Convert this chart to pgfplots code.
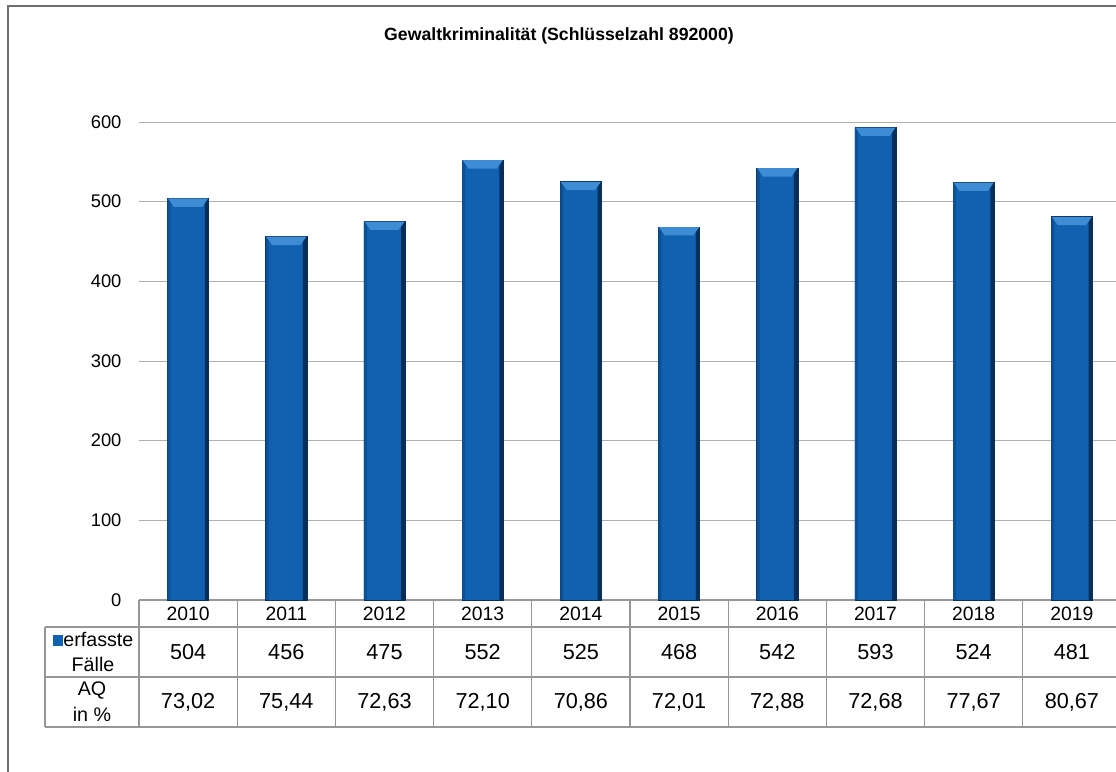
\documentclass[border=0pt]{standalone}
\usepackage{pgfplots}
\pgfplotsset{compat=1.18}
\usepackage{fontspec}
\setmainfont{Liberation Sans}
\definecolor{barblue}{RGB}{16,98,176}
\definecolor{barlight}{RGB}{62,140,212}
\definecolor{barleft}{RGB}{12,80,150}
\definecolor{bardark}{RGB}{8,46,90}
\definecolor{gridgray}{RGB}{175,175,175}
\definecolor{tablegray}{RGB}{150,150,150}
\definecolor{framegray}{RGB}{110,110,110}

% light bevel on top of each bar
\pgfdeclareplotmark{bevel}{%
  \pgfpathmoveto{\pgfpoint{-12.0pt}{0pt}}%
  \pgfpathlineto{\pgfpoint{12.0pt}{0pt}}%
  \pgfpathlineto{\pgfpoint{8.5pt}{-5pt}}%
  \pgfpathlineto{\pgfpoint{-8.5pt}{-5pt}}%
  \pgfpathclose
  \pgfusepathqfill}

\begin{document}
\begin{tikzpicture}[x=0.6pt,y=0.6pt]
\useasboundingbox (0,0) rectangle (1116,771);
\clip (0,0) rectangle (1116,771);
\fill[white] (0,0) rectangle (1116,771);
\draw[framegray, line width=1.1pt] (8,-10) -- (8,765) -- (1130,765);

\node[font=\bfseries\fontsize{10.6}{12}\selectfont] at (559,735)
  {Gewaltkriminalität (Schlüsselzahl 892000)};

\begin{axis}[
  at={(83.4pt,102.6pt)}, anchor=south west,
  scale only axis, width=589.2pt, height=286.8pt,
  xmin=-0.5, xmax=9.5, ymin=0, ymax=600,
  xtick=\empty,
  ytick={0,100,200,300,400,500,600},
  ymajorgrids, grid style={gridgray, line width=0.6pt},
  axis x line*=bottom, axis y line*=left,
  x axis line style={tablegray, line width=0.8pt, -},
  y axis line style={draw=none},
  major tick length=0pt,
  yticklabel style={font=\fontsize{11}{13}\selectfont, xshift=-7pt},
  /pgf/number format/assume math mode=true,
  clip=false]
% bar bodies
\addplot[ybar, bar width=0.42, draw=bardark, line width=0.4pt, fill=barblue]
  coordinates {(0,504)(1,456)(2,475)(3,552)(4,525)(5,468)(6,542)(7,593)(8,524)(9,481)};
% darker left and right edges
\addplot[ybar, bar width=0.03, bar shift=-0.195, draw=none, fill=barleft]
  coordinates {(0,504)(1,456)(2,475)(3,552)(4,525)(5,468)(6,542)(7,593)(8,524)(9,481)};
\addplot[ybar, bar width=0.04, bar shift=0.19, draw=none, fill=bardark]
  coordinates {(0,504)(1,456)(2,475)(3,552)(4,525)(5,468)(6,542)(7,593)(8,524)(9,481)};
% lighter top bevel
\addplot[only marks, mark=bevel, color=barlight]
  coordinates {(0,504)(1,456)(2,475)(3,552)(4,525)(5,468)(6,542)(7,593)(8,524)(9,481)};
\end{axis}

% data table below the plot
\begin{scope}[tablegray, line width=0.8pt]
  \draw (45,144) -- (1125,144);
  \draw (45,94) -- (1125,94);
  \draw (45,44) -- (1125,44);
  \draw (45,144) -- (45,44);
  \foreach \i in {0,...,10} {
    \draw ({139+98.2*\i},171) -- ({139+98.2*\i},44);
  }
\end{scope}

\foreach \yr/\n/\aq [count=\k from 0] in
  {2010/504/{73,02}, 2011/456/{75,44}, 2012/475/{72,63}, 2013/552/{72,10},
   2014/525/{70,86}, 2015/468/{72,01}, 2016/542/{72,88}, 2017/593/{72,68},
   2018/524/{77,67}, 2019/481/{80,67}} {
  \node[font=\fontsize{11.6}{14}\selectfont] at ({188.1+98.2*\k},157.5) {\yr};
  \node[font=\fontsize{13}{15}\selectfont] at ({188.1+98.2*\k},119) {\n};
  \node[font=\fontsize{13}{15}\selectfont] at ({188.1+98.2*\k},69) {\aq};
}
\node[align=center, inner sep=0pt, font=\fontsize{11.8}{15.5}\selectfont] at (93,119)
  {\textcolor{barblue}{\rule{6.5pt}{6.5pt}}erfasste\\Fälle};
\node[align=center, inner sep=0pt, font=\fontsize{11.8}{15.5}\selectfont] at (92,69)
  {AQ\\in \%};
\end{tikzpicture}
\end{document}
